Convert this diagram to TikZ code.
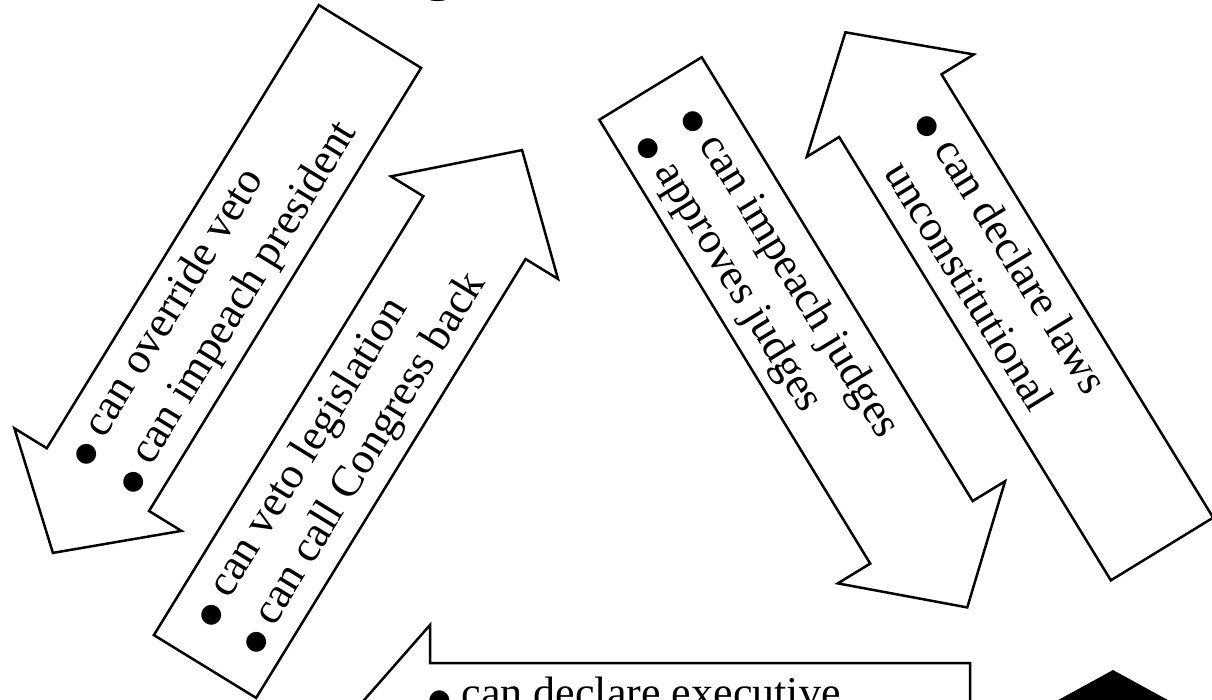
\documentclass[tikz,border=0pt]{standalone}
\usepackage{fontspec}
\setmainfont{Liberation Serif}
\newfontfamily\dejavu{DejaVu Sans}
\newcommand\bul{{\dejavu\fontsize{26}{26}\selectfont ●}}
\begin{document}
\begin{tikzpicture}[x=1pt,y=1pt,
  arr/.style={draw=black, line width=2.5pt, fill=white, line join=miter},
  lbl/.style={anchor=base west, inner sep=0pt, transform shape, font=\fontsize{44}{53}\selectfont}]
\useasboundingbox (0,0) rectangle (1212,699);
\clip (0,0) rectangle (1212,699);
% title (cut off at top)
\node[anchor=base, inner sep=0pt, font=\fontsize{70}{80}\selectfont] (title) at (613,712) {Legislative Branch};
% Arrow A: override veto (points down-left)
\begin{scope}[shift={(370,662.5)}, rotate=58.45]
\draw[arr] (0,60) -- (-520,60) -- (-520,98) -- (-606,0) -- (-520,-98) -- (-520,-60) -- (0,-60) -- cycle;
\node[lbl] (a1) at (-516,15.6) {\bul\ can override veto};
\node[lbl] (a2) at (-515,-39) {\bul\ can impeach president};
\end{scope}
% Arrow B: veto legislation (points up-right)
\begin{scope}[shift={(205,32.5)}, rotate=58.45]
\draw[arr] (0,60) -- (515,60) -- (515,98) -- (606,0) -- (515,-98) -- (515,-60) -- (0,-60) -- cycle;
\node[lbl] (b1) at (36,14.4) {\bul\ can veto legislation};
\node[lbl] (b2) at (36,-38.6) {\bul\ can call Congress back};
\end{scope}
% Arrow C: impeach judges (points down-right)
\begin{scope}[shift={(650.5,610.5)}, rotate=-58.6]
\draw[arr] (0,60) -- (520,60) -- (520,98) -- (608,0) -- (520,-98) -- (520,-60) -- (0,-60) -- cycle;
\node[lbl] (c1) at (39,12) {\bul\ can impeach judges};
\node[lbl] (c2) at (39,-40) {\bul\ approves judges};
\end{scope}
% Arrow D: declare laws unconstitutional (points up-left)
\begin{scope}[shift={(1162,150)}, rotate=-58.5]
\draw[arr] (0,60) -- (-520,60) -- (-520,98) -- (-606,0) -- (-520,-98) -- (-520,-60) -- (0,-60) -- cycle;
\node[lbl] (d1) at (-494,13.7) {\bul\ can declare laws};
\node[lbl] (d2) at (-467,-41) {unconstitutional};
\end{scope}
% Arrow E: bottom (points left)
\draw[arr] (970,36) -- (430,36) -- (430,74) -- (344,-24) -- (430,-122) -- (430,-84) -- (970,-84) -- cycle;
\node[lbl] (e1) at (428,-8) {\bul\ can declare executive};
% black shape bottom right
\fill[black] (1113,29) -- (1040,-11) -- (1186,-11) -- cycle;
\end{tikzpicture}
\end{document}
